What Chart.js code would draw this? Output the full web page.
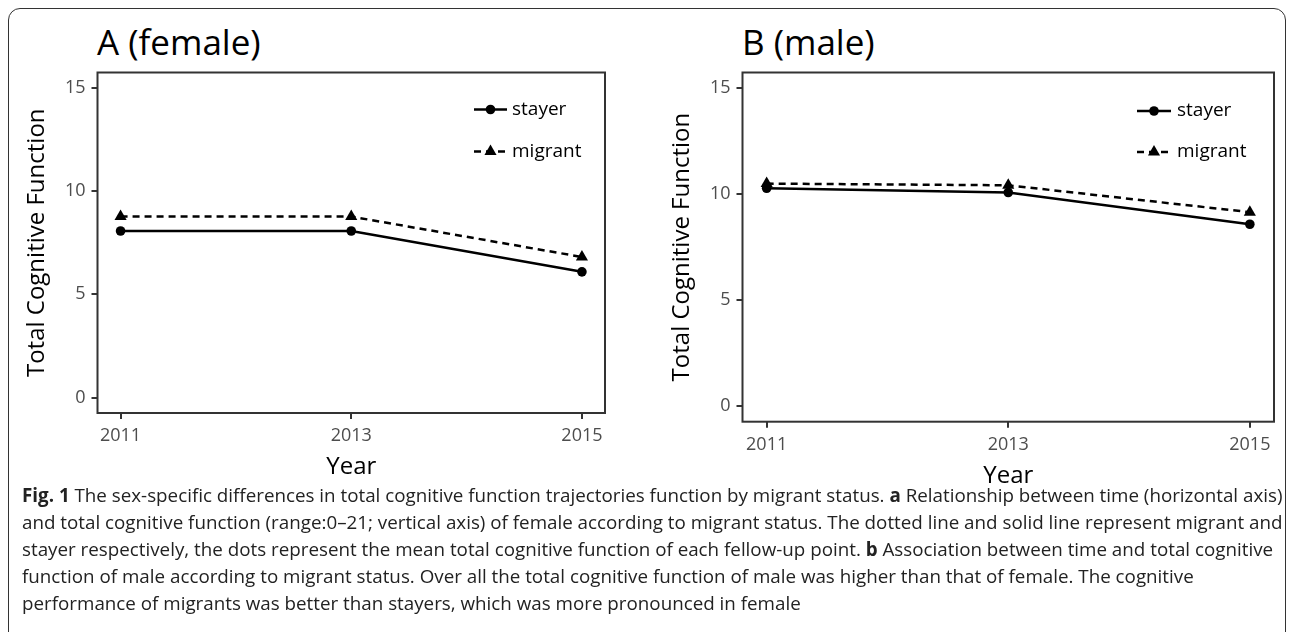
<!DOCTYPE html>
<html>
<head>
<meta charset="utf-8">
<script src="https://cdn.jsdelivr.net/npm/chart.js@4.4.1/dist/chart.umd.min.js"></script>
<style>
  body { margin: 0; background: #fff; width: 1293px; height: 632px; overflow: hidden; position: relative; font-family: "Open Sans", sans-serif; }
  #frame { position: absolute; left: 8px; top: 8px; width: 1276px; height: 700px; border: 1.5px solid #333; border-radius: 12px; }
  .ptitle { position: absolute; top: 24px; font-size: 35px; line-height: 35px; color: #000; white-space: nowrap; }
  .panel { position: absolute; top: 0; }
  #caption { position: absolute; left: 22px; top: 482px; font-size: 16px; line-height: 27px; color: #222; white-space: nowrap; }
  #caption b { font-weight: 700; }
</style>
</head>
<body>
<div id="frame"></div>
<div class="ptitle" style="left:97px">A (female)</div>
<div class="ptitle" style="left:742px">B (male)</div>
<div class="panel" style="left:0"><canvas id="female" width="660" height="486"></canvas></div>
<div class="panel" style="left:660px"><canvas id="male" width="633" height="495"></canvas></div>
<div id="caption"><span id="cap1"><b>Fig. 1</b> The sex-specific differences in total cognitive function trajectories function by migrant status. <b>a</b> Relationship between time (horizontal axis)</span><br>and total cognitive function (range:0–21; vertical axis) of female according to migrant status. The dotted line and solid line represent migrant and<br>stayer respectively, the dots represent the mean total cognitive function of each fellow-up point. <b>b</b> Association between time and total cognitive<br>function of male according to migrant status. Over all the total cognitive function of male was higher than that of female. The cognitive<br>performance of migrants was better than stayers, which was more pronounced in female</div>
<script>
// values
const years = [2011, 2013, 2015];
const femaleStayer = [8.07, 8.07, 6.09];
const femaleMigrant = [8.77, 8.77, 6.81];
const maleStayer = [10.28, 10.08, 8.58];
const maleMigrant = [10.5, 10.42, 9.15];
const yTicks = [0, 5, 10, 15];
const seriesNames = ['stayer', 'migrant'];

Chart.defaults.font.family = '"Open Sans", sans-serif';

// full box around the panel, like ggplot's panel.border
const panelBox = {
  id: 'panelBox',
  afterDraw(chart) {
    const a = chart.chartArea, ctx = chart.ctx;
    ctx.save();
    ctx.strokeStyle = '#333';
    ctx.lineWidth = 2;
    ctx.strokeRect(a.left, a.top, a.right - a.left, a.bottom - a.top);
    ctx.restore();
  }
};

// legend inside the panel with a line sample + marker
const lineLegend = {
  id: 'lineLegend',
  afterDraw(chart, args, o) {
    const a = chart.chartArea, ctx = chart.ctx;
    chart.data.datasets.forEach((ds, i) => {
      const y = a.top + o.top + i * o.gap;
      const x1 = a.right - o.right, x2 = x1 + o.lineLen;
      ctx.save();
      ctx.strokeStyle = ds.borderColor;
      ctx.lineWidth = ds.borderWidth;
      ctx.setLineDash(ds.borderDash || []);
      ctx.beginPath();
      ctx.moveTo(x1, y);
      ctx.lineTo(x2, y);
      ctx.stroke();
      ctx.setLineDash([]);
      ctx.fillStyle = ds.pointBackgroundColor;
      ctx.strokeStyle = ds.pointBackgroundColor;
      Chart.helpers.drawPoint(ctx, { pointStyle: ds.pointStyle, radius: ds.pointRadius, borderWidth: 0, rotation: 0 }, (x1 + x2) / 2, y);
      ctx.font = '19px "Open Sans"';
      ctx.fillStyle = '#000';
      ctx.textBaseline = 'middle';
      ctx.fillText(ds.label, a.right - o.textRight, y);
      ctx.restore();
    });
  }
};

function makeChart(id, stayer, migrant, o) {
  const pts = vals => years.map((yr, i) => ({ x: yr, y: vals[i] }));
  new Chart(document.getElementById(id), {
    type: 'line',
    data: {
      datasets: [{
        label: seriesNames[0],
        data: pts(stayer),
        borderColor: '#000',
        borderWidth: 2.5,
        pointStyle: 'circle',
        pointRadius: 4.8,
        pointBackgroundColor: '#000',
        pointBorderWidth: 0
      }, {
        label: seriesNames[1],
        data: pts(migrant),
        borderColor: '#000',
        borderWidth: 2.5,
        borderDash: [7, 5],
        pointStyle: 'triangle',
        pointRadius: 7,
        pointBackgroundColor: '#000',
        pointBorderWidth: 0
      }]
    },
    options: {
      responsive: false,
      animation: false,
      layout: { padding: o.padding },
      plugins: {
        legend: { display: false },
        tooltip: { enabled: false },
        lineLegend: o.legend
      },
      scales: {
        x: {
          type: 'linear',
          min: 2010.8,
          max: 2015.2,
          afterBuildTicks: s => { s.ticks = years.map(v => ({ value: v })); },
          afterFit: s => { s.height = o.xHeight; },
          grid: { drawOnChartArea: false, drawTicks: true, tickLength: 6, color: '#333', lineWidth: 2 },
          border: { display: false },
          ticks: { color: '#4d4d4d', font: { size: 18 }, padding: 6, maxRotation: 0, autoSkip: false, callback: v => String(v) },
          title: { display: true, text: 'Year', color: '#000', font: { size: 24 }, padding: { top: 0, bottom: 4 } }
        },
        y: {
          min: -0.75,
          max: 15.75,
          afterBuildTicks: s => { s.ticks = yTicks.map(v => ({ value: v })); },
          afterFit: s => { s.width = o.yWidth; },
          grid: { drawOnChartArea: false, drawTicks: true, tickLength: 6, color: '#333', lineWidth: 2 },
          border: { display: false },
          ticks: { color: '#4d4d4d', font: { size: 18 }, padding: 6 },
          title: { display: true, text: 'Total Cognitive Function', color: '#000', font: { size: 24 }, padding: { top: 3, bottom: 0 } }
        }
      }
    },
    plugins: [panelBox, lineLegend]
  });
}

makeChart('female', femaleStayer, femaleMigrant, {
  padding: { left: 20, top: 72.5, right: 55, bottom: 0 },
  yWidth: 77.5,
  xHeight: 73,
  legend: { right: 131, lineLen: 33, textRight: 93, top: 37, gap: 42 }
});

makeChart('male', maleStayer, maleMigrant, {
  padding: { left: 5, top: 72.5, right: 19, bottom: 0 },
  yWidth: 77.5,
  xHeight: 73.3,
  legend: { right: 137, lineLen: 34, textRight: 97, top: 38.5, gap: 41 }
});

// fit caption so the first line spans the box width
const cap = document.getElementById('caption');
const w = document.getElementById('cap1').getBoundingClientRect().width;
cap.style.fontSize = (16 * 1261 / w).toFixed(2) + 'px';
</script>
</body>
</html>
